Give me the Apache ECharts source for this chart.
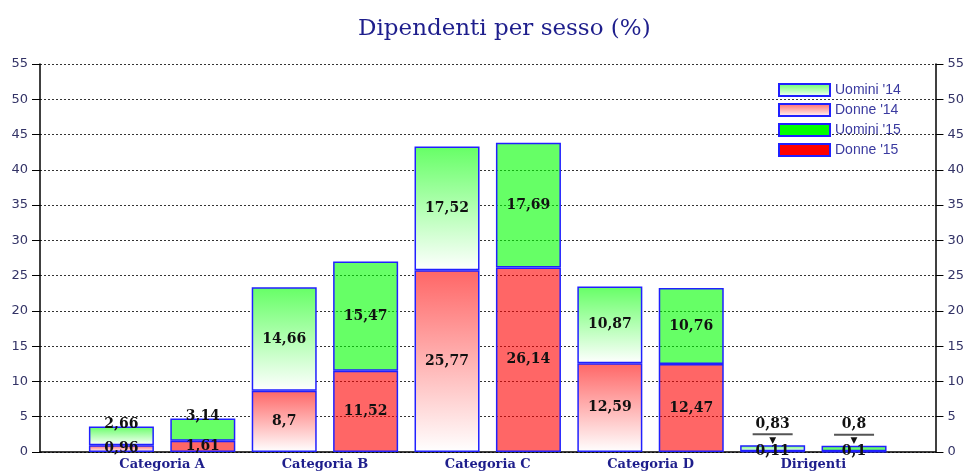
<!DOCTYPE html>
<html lang="it">
<head>
    <meta charset="UTF-8">
    <title>Dipendenti per sesso</title>
    <script src="https://cdn.jsdelivr.net/npm/echarts/dist/echarts.min.js"></script>
    <style>
        html, body { margin: 0; padding: 0; background: #fff; }
    </style>
</head>
<body>
    <div id="chart" style="width: 967px; height: 472px;"></div>

    <script>
        var categories = ['Categoria A', 'Categoria B', 'Categoria C', 'Categoria D', 'Dirigenti'];
        var uomini14 = [2.66, 14.66, 17.52, 10.87, 0.83];
        var donne14 = [0.96, 8.7, 25.77, 12.59, 0.11];
        var uomini15 = [3.14, 15.47, 17.69, 10.76, 0.8];
        var donne15 = [1.61, 11.52, 26.14, 12.47, 0.1];
        var yTicks = [0, 5, 10, 15, 20, 25, 30, 35, 40, 45, 50, 55];

        var chart = echarts.init(document.getElementById('chart'));

        function fmt(v) {
            return String(v).replace('.', ',');
        }

        // 12 slots (0..11) on a hidden category axis; '14 bars on slots 1,3,5,7,9,
        // '15 bars on 2,4,6,8,10. Empty slots keep the index-based stacking aligned.
        var slots = [];
        for (var s = 0; s < 12; s++) slots.push(String(s));

        function toSlots(values, offset, labelTweak) {
            var out = slots.map(function () { return '-'; });
            values.forEach(function (v, i) {
                var item = { value: v };
                if (labelTweak && labelTweak[i]) item.label = labelTweak[i];
                out[2 * i + 1 + offset] = item;
            });
            return out;
        }

        var pointerLabel = {
            position: 'top',
            distance: 0,
            formatter: function (p) {
                return '{v|' + fmt(p.value) + '}\n{l| }\n{t|▼}';
            },
            rich: {
                v: { fontFamily: 'DejaVu Serif', fontWeight: 'bold', fontSize: 14, color: '#111', lineHeight: 16 },
                l: { width: 40, height: 2, backgroundColor: '#555', lineHeight: 4, fontSize: 1 },
                t: { fontSize: 9, color: '#111', lineHeight: 9 }
            }
        };

        var grad = function (c) {
            return new echarts.graphic.LinearGradient(0, 0, 0, 1, [
                { offset: 0, color: c },
                { offset: 1, color: '#ffffff' }
            ]);
        };

        var baseLabel = {
            show: true,
            position: 'inside',
            fontFamily: 'DejaVu Serif',
            fontWeight: 'bold',
            fontSize: 14,
            color: '#111',
            formatter: function (p) { return fmt(p.value); }
        };

        var barCommon = {
            type: 'bar',
            stack: 'all',
            barWidth: 65,
            xAxisIndex: 1,
            label: baseLabel
        };

        var option = {
            animation: false,
            title: {
                text: 'Dipendenti per sesso (%)',
                left: 353,
                top: 13,
                textStyle: { fontFamily: 'DejaVu Serif', fontWeight: 'normal', fontSize: 23, color: '#1e1e8c' }
            },
            legend: {
                left: 773,
                top: 78,
                orient: 'vertical',
                icon: 'rect',
                itemWidth: 51,
                itemHeight: 12,
                itemGap: 6,
                textStyle: { fontFamily: "'Liberation Sans Narrow', 'Liberation Sans'", fontSize: 14, color: '#3a3aa0' },
                data: [
                    { name: "Uomini '14" },
                    { name: "Donne '14" },
                    { name: "Uomini '15", itemStyle: { color: '#00ff00' } },
                    { name: "Donne '15", itemStyle: { color: '#ff0000' } }
                ]
            },
            grid: { left: 40, right: 30, top: 64, bottom: 20 },
            xAxis: [{
                // visible axis: only carries the group names between each pair of bars
                type: 'value',
                min: 0,
                max: 11,
                interval: 0.5,
                axisLine: { lineStyle: { color: '#000', width: 1.5 } },
                axisTick: { show: false },
                splitLine: { show: false },
                axisLabel: {
                    margin: 6,
                    fontFamily: 'DejaVu Serif',
                    fontWeight: 'bold',
                    fontSize: 13,
                    color: '#1e1e8c',
                    formatter: function (v) {
                        var idx = (v - 1.5) / 2;
                        return (Number.isInteger(idx) && categories[idx]) ? categories[idx] : '';
                    }
                }
            }, {
                type: 'category',
                data: slots,
                boundaryGap: false,
                position: 'bottom',
                show: false
            }],
            yAxis: [0, 1].map(function (k) {
                return {
                    type: 'value',
                    position: k === 0 ? 'left' : 'right',
                    min: yTicks[0],
                    max: yTicks[yTicks.length - 1],
                    interval: 5,
                    axisLine: { show: true, lineStyle: { color: '#000', width: 1.5 } },
                    axisTick: { show: true, length: 8, lineStyle: { color: '#000' } },
                    axisLabel: { margin: 12, fontFamily: 'DejaVu Sans', fontSize: 13, color: '#333366' },
                    splitLine: k === 0 ? { show: true, lineStyle: { color: '#333', type: [2, 2] } } : { show: false }
                };
            }),
            series: [
                Object.assign({}, barCommon, {
                    name: "Donne '14",
                    data: toSlots(donne14, 0),
                    itemStyle: { color: grad('#ff6666'), borderColor: '#2020ff', borderWidth: 1.5 }
                }),
                Object.assign({}, barCommon, {
                    name: "Donne '15",
                    data: toSlots(donne15, 1),
                    itemStyle: { color: 'rgba(255,0,0,0.6)', borderColor: '#2020ff', borderWidth: 1.5 }
                }),
                Object.assign({}, barCommon, {
                    name: "Uomini '14",
                    data: toSlots(uomini14, 0, { 0: { offset: [0, -11] }, 4: pointerLabel }),
                    itemStyle: { color: grad('#66ff66'), borderColor: '#2020ff', borderWidth: 1.5 }
                }),
                Object.assign({}, barCommon, {
                    name: "Uomini '15",
                    data: toSlots(uomini15, 1, { 0: { offset: [0, -13] }, 4: pointerLabel }),
                    itemStyle: { color: 'rgba(0,255,0,0.6)', borderColor: '#2020ff', borderWidth: 1.5 }
                })
            ]
        };

        chart.setOption(option);
    </script>
</body>
</html>
